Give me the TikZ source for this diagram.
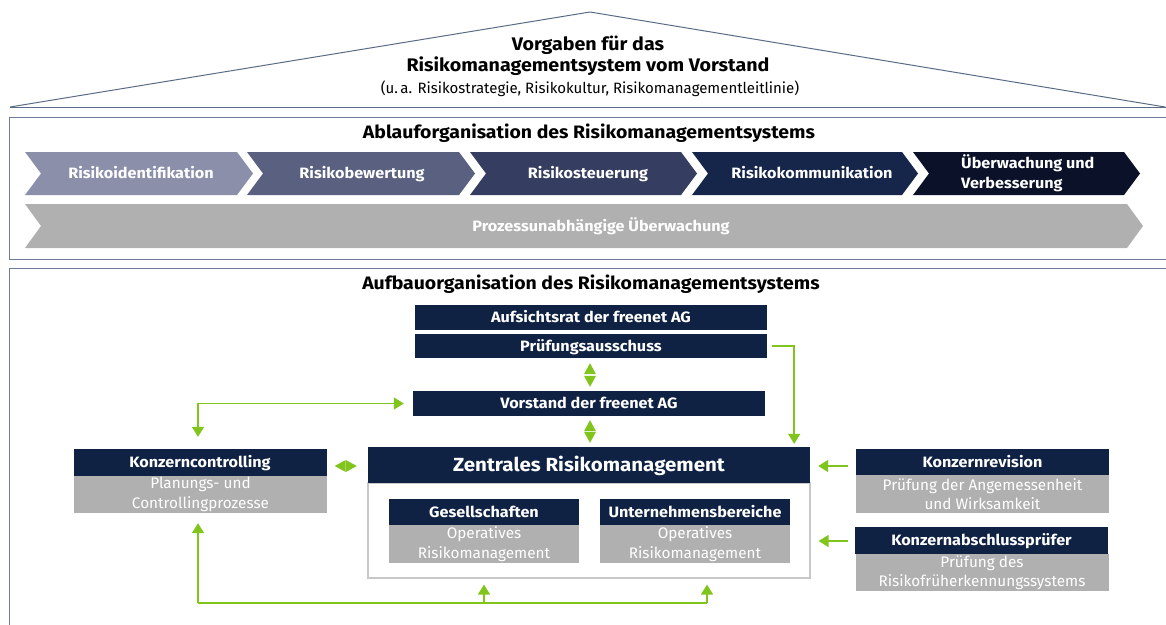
\documentclass[tikz,border=0pt]{standalone}
\usepackage{fontspec}
\setmainfont{Fira Sans}[BoldFeatures={FakeStretch=1.08}]
\usetikzlibrary{arrows.meta,calc}
\definecolor{navy}{HTML}{0F2244}
\definecolor{boxgray}{HTML}{B0B0B0}
\definecolor{grn}{HTML}{80C41C}
\definecolor{frame}{HTML}{6E7C96}
\definecolor{rooflc}{HTML}{5B6B86}
\definecolor{cgray}{HTML}{C8C8C8}
\definecolor{chA}{HTML}{8B8FAA}
\definecolor{chB}{HTML}{5A6080}
\definecolor{chC}{HTML}{353D60}
\definecolor{chD}{HTML}{15264A}
\definecolor{chE}{HTML}{0A1128}
\newcommand{\chevpath}[5]{% x1 x2 y1 y2 depth
  (#1,#3) -- ({#2-#5},#3) -- (#2,{(#3+#4)/2}) -- ({#2-#5},#4) -- (#1,#4) -- ({#1+#5},{(#3+#4)/2}) -- cycle}
\begin{document}
\begin{tikzpicture}[x=1pt,y=-1pt,
  hdr/.style={fill=navy,text=white,font=\bfseries\fontsize{15}{17}\selectfont,inner sep=0pt,minimum height=25pt,text height=10.6pt,text depth=0pt},
  bodybox/.style={fill=boxgray,text=white,font=\fontsize{15.3}{19.5}\selectfont,align=center,inner sep=0pt},
  chevtext/.style={text=white,font=\bfseries\fontsize{15}{20}\selectfont,inner sep=0pt},
  chev1/.style={chevtext,text height=10.6pt,text depth=0pt},
  title/.style={font=\bfseries\fontsize{18.2}{21}\selectfont,text=black,inner sep=0pt,align=center},
  gline/.style={draw=grn,line width=1.5pt},
  conn/.style={gline,-{Triangle[width=12pt,length=10pt]}},
  conn2/.style={gline,{Triangle[width=12pt,length=10pt]}-{Triangle[width=12pt,length=10pt]}},
  tri/.style={fill=grn,draw=none}
]
\useasboundingbox (0,0) rectangle (1166,624);
\begin{scope}
\clip (0,0) rectangle (1166,624);
% roof
\draw[rooflc,line width=1pt,line join=round] (10,107) -- (590,12) -- (1165,107);
\draw[rooflc,line width=1pt] (10,107) -- (1170,107);
\node[title] (vorg) at (588,56) {Vorgaben für das\\Risikomanagementsystem vom Vorstand};
\node[font=\fontsize{15}{17}\selectfont,inner sep=0pt] (vorgsub) at (590,89) {(u.\,a. Risikostrategie, Risikokultur, Risikomanagementleitlinie)};
% box 1
\draw[frame,line width=1pt] (9,117) rectangle (1175,259);
\node[title,font=\bfseries\fontsize{18}{21}\selectfont] (ablauf) at (589,133) {Ablauforganisation des Risikomanagementsystems};
\fill[chA] \chevpath{25}{253}{152}{195}{16};
\fill[chB] \chevpath{247}{475}{152}{195}{16};
\fill[chC] \chevpath{470}{697}{152}{195}{16};
\fill[chD] \chevpath{692}{918}{152}{195}{16};
\fill[chE] \chevpath{913}{1140}{152}{195}{16};
\node[chev1] (c1) at (141,173.5) {Risikoidentifikation};
\node[chev1] (c2) at (362,173.5) {Risikobewertung};
\node[chev1] (c3) at (588,173.5) {Risikosteuerung};
\node[chev1] (c4) at (812,173.5) {Risikokommunikation};
\node[chevtext,anchor=west,align=left] (c5) at (961,173.5) {Überwachung und\\Verbesserung};
\fill[boxgray] \chevpath{25}{1143}{204}{248}{16};
\node[chev1] (pu) at (601,226.5) {Prozessunabhängige Überwachung};
% box 2
\draw[frame,line width=1pt] (9,268) rectangle (1175,640);
\node[title,font=\bfseries\fontsize{18}{21}\selectfont] (aufbau) at (591,284) {Aufbauorganisation des Risikomanagementsystems};
\node[hdr,minimum width=352pt] (auf) at (591,317.5) {Aufsichtsrat der freenet AG};
\node[hdr,minimum width=352pt,minimum height=24pt] (pa) at (591,346) {Prüfungsausschuss};
\node[hdr,minimum width=352pt] (vs) at (589,403.5) {Vorstand der freenet AG};
\node[draw=cgray,line width=1.2pt,minimum width=442pt,minimum height=95pt,inner sep=0pt] (grp) at (589,530.5) {};
\node[hdr,minimum width=442pt,minimum height=36pt,font=\bfseries\fontsize{19}{22}\selectfont,text height=13.2pt] (zrm) at (589,465) {Zentrales Risikomanagement};
\node[hdr,minimum width=190pt,minimum height=26pt] (ges) at (484,512) {Gesellschaften};
\node[bodybox,minimum width=190pt,minimum height=38pt] (gesb) at (484,544) {Operatives\\Risikomanagement};
\node[hdr,minimum width=190pt,minimum height=26pt] (ub) at (695,512) {Unternehmensbereiche};
\node[bodybox,minimum width=190pt,minimum height=38pt] (ubb) at (695,544) {Operatives\\Risikomanagement};
\node[hdr,minimum width=253pt,minimum height=27pt] (kc) at (200,462.5) {Konzerncontrolling};
\node[bodybox,minimum width=253pt,minimum height=37pt] (kcb) at (200.5,494.5) {Planungs- und\\Controllingprozesse};
\node[hdr,minimum width=253pt,minimum height=26pt] (kr) at (982.5,462) {Konzernrevision};
\node[bodybox,minimum width=253pt,minimum height=38pt] (krb) at (982.5,494) {Prüfung der Angemessenheit\\und Wirksamkeit};
\node[hdr,minimum width=253pt,minimum height=27pt] (kap) at (981.5,540.5) {Konzernabschlussprüfer};
\node[bodybox,minimum width=253pt,minimum height=37pt] (kapb) at (982,572.5) {Prüfung des\\Risikofrüherkennungssystems};
% connectors
\draw[conn] ($(pa.east)+(5,0)$) -| ($(zrm.north east)+(-16,-3)$);
\draw[conn2] ($(kc.north)+(-2,-12)$) |- ($(vs.west)+(-9,0)$);
\draw[conn] ($(kr.west)+(-8,4)$) -- ($(zrm.east)+(8,1)$);
\draw[conn] ($(kap.west)+(-7,0.5)$) -- ($(grp.east |- kap.west)+(8,0.5)$);
\coordinate (bl) at (198,603);
\coordinate (bm) at (484,603);
\coordinate (br) at (707,603);
\draw[gline] (bl) -- (br);
\draw[conn] (bl) -- ($(kcb.south)+(-2.5,10)$);
\draw[conn] (bm) -- ($(grp.south -| bm)+(0,6)$);
\draw[conn] (br) -- ($(grp.south -| br)+(0,6)$);
% double triangles
\fill[tri] ($(pa.south)+(-1,5)$) -- ++(-6,11) -- ++(12,0) -- cycle;
\fill[tri] ($(vs.north)+(1,-4)$) -- ++(-6,-11) -- ++(12,0) -- cycle;
\fill[tri] ($(vs.south)+(1,4)$) -- ++(-6,11) -- ++(12,0) -- cycle;
\fill[tri] ($(zrm.north)+(1,-4)$) -- ++(-6,-11) -- ++(12,0) -- cycle;
\fill[tri] ($(kc.east)+(8,3.5)$) -- ++(11,-6) -- ++(0,12) -- cycle;
\fill[tri] ($(zrm.west)+(-11,1)$) -- ++(-11,-6) -- ++(0,12) -- cycle;
\end{scope}
\end{tikzpicture}
\end{document}
